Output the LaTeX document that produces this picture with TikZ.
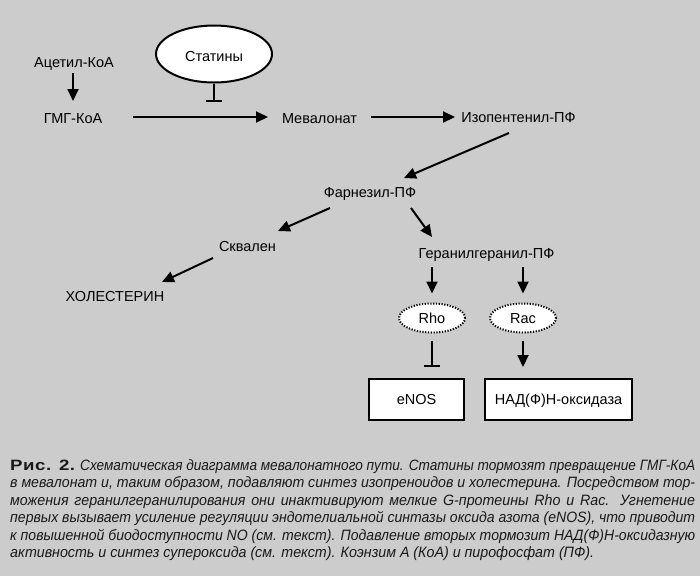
\documentclass[tikz,border=0pt]{standalone}
\usepackage{fontspec}
\setmainfont{Liberation Sans}
\newfontfamily\ricfont{Liberation Sans}[FakeStretch=1.3,LetterSpace=4]
\newfontfamily\capfont{Liberation Sans}[FakeStretch=0.95]
\usetikzlibrary{arrows.meta,shapes.geometric}
\definecolor{bg}{HTML}{CCCCCC}
\newsavebox\capbox
\newcommand\capfit[1]{\sbox\capbox{#1}\ifdim\wd\capbox>685pt \resizebox{685pt}{\height}{#1}\else\makebox[685pt][s]{#1}\fi}
\begin{document}
\begin{tikzpicture}[x=1pt,y=-1pt,
  lbl/.style={font=\fontsize{14.5}{16}\selectfont, inner sep=0pt, anchor=base},
  arr/.style={line width=2pt, -{Triangle[length=12pt,width=11pt]}},
  inh/.style={line width=2pt, -{Bar[width=16pt]}},
  statnode/.style={ellipse, draw, line width=2pt, fill=white, minimum width=116pt, minimum height=57pt, inner sep=0pt, text height=14pt, text depth=0pt, font=\fontsize{14.5}{16}\selectfont},
  dotnode/.style={ellipse, draw, line width=2pt, dash pattern=on 1.2pt off 1.6pt, fill=white, minimum width=66pt, minimum height=29pt, inner sep=0pt, text height=10pt, text depth=0pt, font=\fontsize{14.5}{16}\selectfont},
  boxnode/.style={rectangle, draw, line width=2pt, fill=white, minimum height=41pt, inner sep=0pt, text height=10pt, text depth=0pt, font=\fontsize{14.5}{16}\selectfont},
  capline/.style={anchor=base west, inner sep=0pt, text=black!90, font=\fontsize{15}{17}\selectfont\capfont\itshape}
]
\fill[bg] (0,0) rectangle (700,576);
\useasboundingbox (0,0) rectangle (700,576);

% nodes
\node[lbl] (acetyl) at (74,67) {Ацетил-КоА};
\node[lbl] (gmg) at (73,123) {ГМГ-КоА};
\node[statnode] (stat) at (214,54) {Статины};
\node[lbl] (mev) at (319.5,123) {Мевалонат};
\node[lbl] (iso) at (518.5,122.5) {Изопентенил-ПФ};
\node[lbl] (farn) at (370,197) {Фарнезил-ПФ};
\node[lbl] (skv) at (247.5,251) {Сквален};
\node[lbl] (chol) at (115,301) {ХОЛЕСТЕРИН};
\node[lbl] (ger) at (486.5,258) {Геранилгеранил-ПФ};
\node[dotnode] (rho) at (432,318) {Rho};
\node[dotnode] (rac) at (523,318) {Rac};
\node[boxnode, minimum width=95pt] (enos) at (416.5,399) {eNOS};
\node[boxnode, minimum width=147pt] (nad) at (558.5,399) {НАД(Ф)Н-оксидаза};

% connectors
\draw[arr] ([shift={(-1,6)}]acetyl.base) -- ([shift={(0,-22)}]gmg.base);
\draw[arr] ([shift={(60,-6)}]gmg.base) -- ([shift={(-51.5,-6)}]mev.base);
\draw[inh] (stat.south) -- ([shift={(0,18.5)}]stat.south);
\draw[arr] ([shift={(51.5,-6)}]mev.base) -- ([shift={(-63.5,-5.5)}]iso.base);
\draw[arr] ([shift={(-9.5,10.5)}]iso.base) -- ([shift={(34,-19)}]farn.base);
\draw[arr] ([shift={(-40,11)}]farn.base) -- ([shift={(30.5,-20)}]skv.base);
\draw[arr] ([shift={(41,11)}]farn.base) -- ([shift={(-54.5,-21)}]ger.base);
\draw[arr] ([shift={(-34.5,7)}]skv.base) -- ([shift={(47,-19)}]chol.base);
\draw[arr] ([shift={(-54.5,9)}]ger.base) -- ([shift={(0,-9)}]rho.north);
\draw[arr] ([shift={(36.5,9)}]ger.base) -- ([shift={(0,-9)}]rac.north);
\draw[inh] ([shift={(0,7)}]rho.south) -- ([shift={(15.5,-10.5)}]enos.north);
\draw[arr] ([shift={(0,7)}]rac.south) -- ([shift={(-35.5,-10.5)}]nad.north);

% caption
\node[capline] (c1) at (10,470) {\capfit{{\upshape\ricfont\bfseries Рис. 2.} Схематическая диаграмма мевалонатного пути. Статины тормозят превращение ГМГ-КоА}};
\node[capline] (c2) at (10,487.5) {\capfit{в мевалонат и, таким образом, подавляют синтез изопреноидов и холестерина. Посредством тор-}};
\node[capline] (c3) at (10,505) {\capfit{можения геранилгеранилирования они инактивируют мелкие G-протеины Rho и Rac. Угнетение}};
\node[capline] (c4) at (10,522.5) {\capfit{первых вызывает усиление регуляции эндотелиальной синтазы оксида азота (eNOS), что приводит}};
\node[capline] (c5) at (10,540) {\capfit{к повышенной биодоступности NO (см. текст). Подавление вторых тормозит НАД(Ф)Н-оксидазную}};
\node[capline] (c6) at (10,557.5) {активность и синтез супероксида (см. текст). Коэнзим А (КоА) и пирофосфат (ПФ).};
\end{tikzpicture}
\end{document}
